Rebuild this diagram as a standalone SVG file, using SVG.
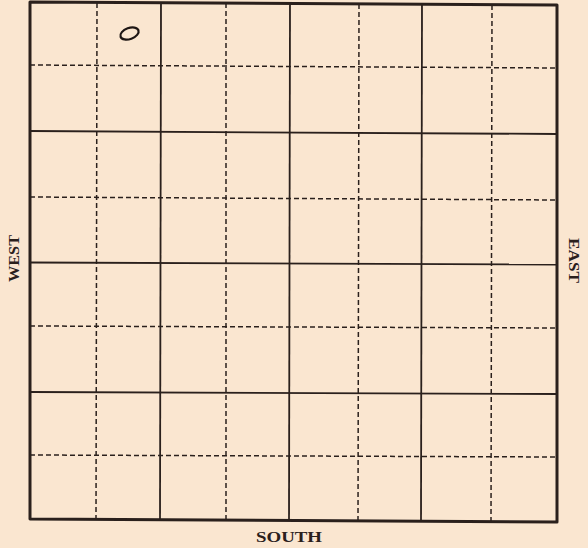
<svg xmlns="http://www.w3.org/2000/svg" width="588" height="548" viewBox="0 0 588 548">
<style>
.bg{fill:#fae6d0}
.border{fill:none;stroke:#2a201c;stroke-width:3;stroke-linejoin:round}
.solid{stroke:#2a201c;stroke-width:1.8;fill:none}
.dash{stroke:#2a201c;stroke-width:1.5;stroke-dasharray:5 3;fill:none}
.lbl{font-family:"Liberation Serif","DejaVu Serif",serif;font-weight:bold;font-size:14px;fill:#2a201c}
</style>
<rect class="bg" x="0" y="0" width="588" height="548"/>
<g id="grid">
<line class="dash" x1="97" y1="3" x2="96" y2="520"/>
<line class="solid" x1="161" y1="3" x2="160" y2="520"/>
<line class="dash" x1="226" y1="3" x2="226" y2="520"/>
<line class="solid" x1="290" y1="4" x2="289" y2="521"/>
<line class="dash" x1="359" y1="4" x2="358" y2="521"/>
<line class="solid" x1="422" y1="4" x2="421" y2="521"/>
<line class="dash" x1="492" y1="5" x2="491" y2="522"/>
<line class="dash" x1="30" y1="65" x2="557" y2="68"/>
<line class="solid" x1="30" y1="131" x2="557" y2="134"/>
<line class="dash" x1="30" y1="197" x2="557" y2="200"/>
<line class="solid" x1="30" y1="262.5" x2="557" y2="264.5"/>
<line class="dash" x1="30" y1="326" x2="557" y2="328"/>
<line class="solid" x1="30" y1="392" x2="557" y2="394"/>
<line class="dash" x1="30" y1="455" x2="557" y2="457"/>
<path class="border" d="M30,2 L557,5 L557,522 L30,519 Z"/>
</g>
<g id="mark">
<ellipse cx="129.5" cy="33.5" rx="9.5" ry="5.5" transform="rotate(-20 129.5 33.5)" fill="none" stroke="#1e1614" stroke-width="2.2"/>
</g>
<g id="labels">
<text class="lbl" x="256" y="542" textLength="66" lengthAdjust="spacingAndGlyphs">SOUTH</text>
<text class="lbl" transform="translate(18.5 282) rotate(-90)" x="0" y="0" textLength="47" lengthAdjust="spacingAndGlyphs">WEST</text>
<text class="lbl" transform="translate(569 238) rotate(90)" x="0" y="0" textLength="45" lengthAdjust="spacingAndGlyphs">EAST</text>
</g>
</svg>
